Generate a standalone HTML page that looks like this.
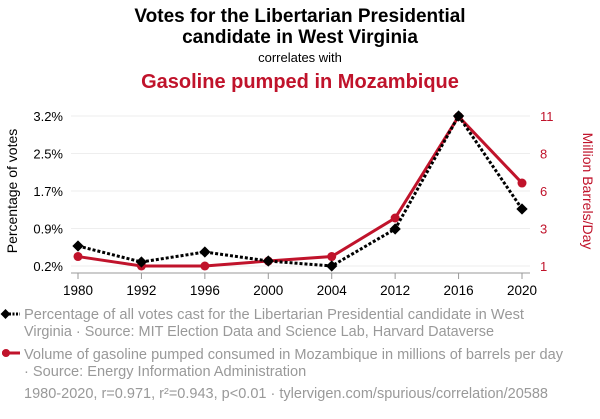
<!DOCTYPE html>
<html><head><meta charset="utf-8"><style>
body{margin:0;background:#fff;width:600px;height:414px;overflow:hidden;font-family:"Liberation Sans",sans-serif}
</style></head><body>
<svg id="c" width="600" height="414" xmlns="http://www.w3.org/2000/svg">
<text x="300" y="22" text-anchor="middle" font-size="19" font-weight="bold" fill="#000">Votes for the Libertarian Presidential</text>
<text x="300" y="43" text-anchor="middle" font-size="19" font-weight="bold" fill="#000">candidate in West Virginia</text>
<text x="300" y="62" text-anchor="middle" font-size="13" fill="#000">correlates with</text>
<text x="300" y="88" text-anchor="middle" font-size="20" font-weight="bold" fill="#c0132b">Gasoline pumped in Mozambique</text>
<text transform="translate(17,191) rotate(-90)" text-anchor="middle" font-size="14" fill="#000">Percentage of votes</text>
<text transform="translate(583,191) rotate(90)" text-anchor="middle" font-size="14" fill="#c0132b">Million Barrels/Day</text>
<g id="grid"></g><g id="axes"></g><g id="series"></g>
<g font-size="14.6" fill="#999">
<line x1="2" y1="314" x2="20" y2="314" stroke="#000" stroke-width="3" stroke-dasharray="2,1.5"/>
<rect x="2" y="310.5" width="7" height="7" fill="#000" transform="rotate(45 5.5 314)"/>
<text x="24" y="319" textLength="500" lengthAdjust="spacingAndGlyphs">Percentage of all votes cast for the Libertarian Presidential candidate in West</text>
<text x="24" y="336" textLength="470" lengthAdjust="spacingAndGlyphs">Virginia · Source: MIT Election Data and Science Lab, Harvard Dataverse</text>
<line x1="2" y1="353" x2="20" y2="353" stroke="#c0132b" stroke-width="3"/>
<circle cx="6" cy="353" r="4" fill="#c0132b"/>
<text x="24" y="359" textLength="539" lengthAdjust="spacingAndGlyphs">Volume of gasoline pumped consumed in Mozambique in millions of barrels per day</text>
<text x="24" y="376">· Source: Energy Information Administration</text>
<text x="24" y="398" textLength="524" lengthAdjust="spacingAndGlyphs">1980-2020, r=0.971, r²=0.943, p&lt;0.01 · tylervigen.com/spurious/correlation/20588</text>
</g>
</svg>
<script>
const categories=["1980","1992","1996","2000","2004","2012","2016","2020"];
const votes=[0.6,0.28,0.48,0.3,0.2,0.94,3.2,1.34];
const gasoline=[1.63,1.0,1.0,1.33,1.63,4.2,10.97,6.53];
const leftTicks=[3.2,2.45,1.7,0.95,0.2];
const leftLabels=["3.2%","2.5%","1.7%","0.9%","0.2%"];
const rightTicks=[11,8.5,6,3.5,1];
const rightLabels=["11","8","6","3","1"];
const NS="http://www.w3.org/2000/svg";
const x=i=>78+i*(522-78)/(categories.length-1);
const yL=v=>266-(v-0.2)/(3.2-0.2)*150;
const yR=v=>266-(v-1)/(11-1)*150;
function mk(t,a,p){const e=document.createElementNS(NS,t);for(const k in a)e.setAttribute(k,a[k]);p.appendChild(e);return e;}
const grid=document.getElementById('grid'),axes=document.getElementById('axes'),ser=document.getElementById('series');
leftTicks.forEach((v,i)=>{
 const g=mk('line',{x1:71,x2:530,y1:yL(v),y2:yL(v),stroke:'#eee','stroke-width':1},grid);
 
 
 const t=mk('text',{x:63,y:yL(v)+5,'text-anchor':'end','font-size':13,fill:'#000'},axes);t.textContent=leftLabels[i];
 
 
});
rightTicks.forEach((v,i)=>{
 const t=mk('text',{x:540,y:yR(v)+5,'font-size':13,fill:'#c0132b'},axes);t.textContent=rightLabels[i];
 
 
});
const ax=mk('line',{x1:71,x2:530,y1:273,y2:273,stroke:'#999','stroke-width':1},axes);


categories.forEach((c,i)=>{
 mk('line',{x1:x(i),x2:x(i),y1:273,y2:279,stroke:'#999'},axes);
 const t=mk('text',{x:x(i),y:295,'text-anchor':'middle','font-size':13.5,fill:'#000'},axes);t.textContent=c;
 
 
});
const rp=mk('polyline',{points:gasoline.map((v,i)=>x(i)+','+yR(v)).join(' '),fill:'none',stroke:'#c0132b','stroke-width':3},ser);


gasoline.forEach((v,i)=>{const c=mk('circle',{cx:x(i),cy:yR(v),r:4.5,fill:'#c0132b'},ser);
 
 });
const bp=mk('polyline',{points:votes.map((v,i)=>x(i)+','+yL(v)).join(' '),fill:'none',stroke:'#000','stroke-width':3,'stroke-dasharray':'3,2'},ser);


votes.forEach((v,i)=>{const r=mk('rect',{x:x(i)-4,y:yL(v)-4,width:8,height:8,fill:'#000',transform:`rotate(45 ${x(i)} ${yL(v)})`},ser);
 
 });
</script>
</body></html>
